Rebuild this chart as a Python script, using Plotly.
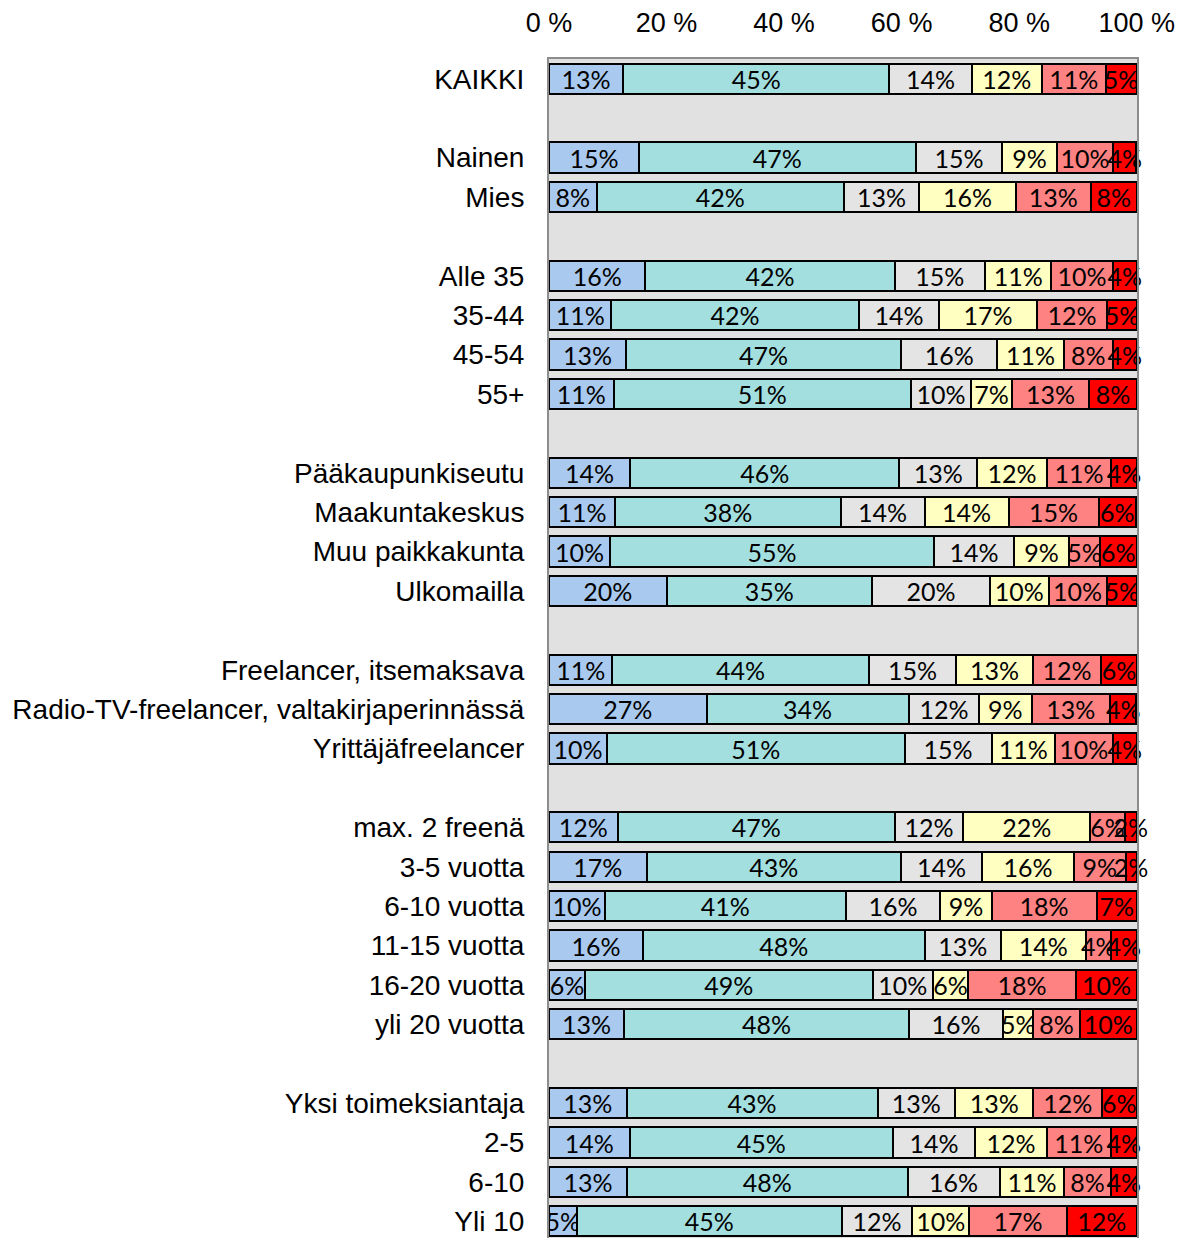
import plotly.graph_objects as go

# Row labels, grouped (a blank spacer row separates groups)
groups = [
    ["KAIKKI"],
    ["Nainen", "Mies"],
    ["Alle 35", "35-44", "45-54", "55+"],
    ["Pääkaupunkiseutu", "Maakuntakeskus", "Muu paikkakunta", "Ulkomailla"],
    ["Freelancer, itsemaksava", "Radio-TV-freelancer, valtakirjaperinnässä", "Yrittäjäfreelancer"],
    ["max. 2 freenä", "3-5 vuotta", "6-10 vuotta", "11-15 vuotta", "16-20 vuotta", "yli 20 vuotta"],
    ["Yksi toimeksiantaja", "2-5", "6-10", "Yli 10"],
]

# Shares (%) per answer category, in row order (non-blank rows)
seg1 = [12.6, 15.3, 8.1, 16.4, 10.6, 13.1, 11.0, 13.8, 11.2, 10.4, 20.0, 10.8, 26.8, 9.9,
        11.7, 16.6, 9.5, 16.0, 6.1, 12.8, 13.2, 13.7, 13.3, 4.7]
seg2 = [45.3, 47.1, 42.1, 42.4, 42.1, 46.8, 50.6, 45.8, 38.4, 55.1, 35.0, 43.6, 34.4, 50.6,
        47.1, 43.3, 41.0, 47.9, 49.0, 48.4, 42.7, 44.8, 47.7, 45.1]
seg3 = [14.0, 14.7, 12.8, 15.4, 13.7, 16.4, 10.2, 13.3, 14.3, 13.6, 20.0, 14.9, 12.0, 14.8,
        11.7, 13.8, 16.1, 13.0, 10.2, 16.1, 13.2, 14.0, 15.7, 12.0]
seg4 = [12.0, 9.3, 16.4, 11.3, 16.6, 11.3, 7.0, 11.8, 14.3, 9.4, 10.0, 13.0, 8.9, 10.8,
        21.6, 15.6, 8.7, 14.4, 6.0, 5.1, 13.3, 12.2, 11.0, 9.7]
seg5 = [10.8, 9.6, 12.8, 10.4, 12.0, 8.3, 13.1, 11.0, 15.3, 5.2, 9.9, 11.7, 13.4, 9.8,
        5.9, 8.8, 17.9, 4.3, 18.4, 7.9, 11.7, 10.9, 7.9, 16.6]
seg6 = [5.3, 3.9, 7.8, 4.1, 5.0, 4.1, 8.1, 4.3, 6.4, 6.3, 5.1, 6.0, 4.4, 4.1,
        2.0, 1.9, 6.8, 4.4, 10.3, 9.7, 5.9, 4.4, 4.4, 11.9]

tick_vals = [0, 20, 40, 60, 80, 100]
tick_text = ["0 %", "20 %", "40 %", "60 %", "80 %", "100 %"]

colors = ["#a9c9ee", "#a3dfdf", "#e4e4e4", "#ffffc2", "#ff8282", "#ff0000"]

# build category array with spacers
cat_array = []
rows = []
for gi, g in enumerate(groups):
    if gi > 0:
        cat_array.append(" " * gi)
    cat_array.extend(g)
    rows.extend(g)

fig = go.Figure()
for vals, col in zip([seg1, seg2, seg3, seg4, seg5, seg6], colors):
    fig.add_trace(go.Bar(
        y=rows, x=vals, orientation="h",
        marker=dict(color=col, line=dict(color="#000000", width=2)),
        width=0.77,
        texttemplate="%{x:.0f}%",
        textposition="inside",
        insidetextanchor="middle",
        textangle=0,
        constraintext="none",
        cliponaxis=False,
        textfont=dict(family="Lato, Carlito, sans-serif", size=25, color="#000000"),
        hoverinfo="x+y",
    ))

n = len(cat_array)
# the page body adds an 8px offset, margins compensate
fig.update_layout(
    barmode="stack",
    width=1184, height=1235,
    margin=dict(l=541, r=55, t=49, b=0),
    paper_bgcolor="#ffffff",
    plot_bgcolor="#e1e1e1",
    showlegend=False,
    uniformtext=dict(minsize=25, mode="show"),
    font=dict(family="Liberation Sans, Arial, sans-serif", color="#000000"),
)
fig.update_xaxes(
    side="top", range=[0, 100.05], tickvals=tick_vals, ticktext=tick_text,
    showgrid=False, zeroline=False, ticks="", ticklabelstandoff=14,
    tickfont=dict(family="Liberation Sans, Arial, sans-serif", size=27, color="#000000"),
    showline=True, linecolor="#8c8c8c", linewidth=2, mirror=True,
)
fig.update_yaxes(
    type="category", categoryorder="array", categoryarray=cat_array,
    range=[n - 0.5, -0.5],
    showgrid=False, zeroline=False, ticks="", ticklabelstandoff=17,
    tickfont=dict(family="Liberation Sans, Arial, sans-serif", size=28, color="#000000"),
    showline=True, linecolor="#8c8c8c", linewidth=2, mirror=True,
)

fig.write_html("out.html")
